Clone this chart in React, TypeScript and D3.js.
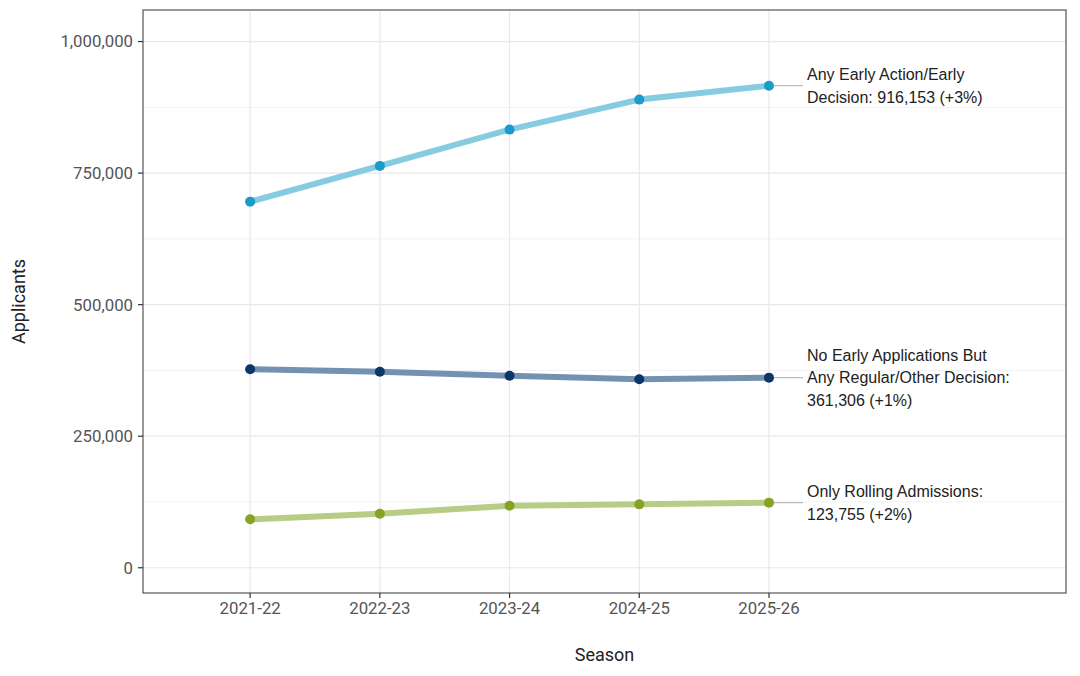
import { useEffect } from "react";
import * as d3 from "d3";

const seasons = ["2021-22", "2022-23", "2023-24", "2024-25", "2025-26"];
const earlyAction = [695800, 763700, 832700, 889700, 916153];
const regularOnly = [377200, 372600, 365000, 358200, 361306];
const rollingOnly = [92000, 102700, 117900, 120500, 123755];
const yTicks = [0, 250000, 500000, 750000, 1000000];
const yMinor = [125000, 375000, 625000, 875000];

const series = [
  {
    key: "early",
    values: earlyAction,
    line: "#86cbe0",
    point: "#1a9bcb",
    label: ["Any Early Action/Early", "Decision: 916,153 (+3%)"],
  },
  {
    key: "regular",
    values: regularOnly,
    line: "#7591b1",
    point: "#0c3568",
    label: ["No Early Applications But", "Any Regular/Other Decision:", "361,306 (+1%)"],
  },
  {
    key: "rolling",
    values: rollingOnly,
    line: "#b7cd85",
    point: "#86a324",
    label: ["Only Rolling Admissions:", "123,755 (+2%)"],
  },
];

const W = 1080;
const H = 676;
const panel = { left: 143, right: 1066, top: 10, bottom: 593 };

export default function App() {
  useEffect(() => {
    document.body.style.margin = "0";
  }, []);

  // discrete positions 1..5, panel widened to the right for the labels
  const x = d3.scaleLinear().domain([0.174, 7.29]).range([panel.left, panel.right]);
  const y = d3.scaleLinear().domain([-48000, 1060000]).range([panel.bottom, panel.top]);

  const line = d3
    .line<number>()
    .x((_, i) => x(i + 1))
    .y((d) => y(d));

  const fmt = d3.format(",");
  const labelX = 807;
  const lineGap = 22.7;
  const tickFont = "Roboto, sans-serif";

  return (
    <svg width={W} height={H} style={{ display: "block", background: "#fff" }}>
      {/* grid */}
      <g>
        {yMinor.map((t) => (
          <line key={"m" + t} x1={panel.left} x2={panel.right} y1={y(t)} y2={y(t)} stroke="#f2f2f2" strokeWidth={1} />
        ))}
        {yTicks.map((t) => (
          <line key={"g" + t} x1={panel.left} x2={panel.right} y1={y(t)} y2={y(t)} stroke="#e8e8e8" strokeWidth={1.2} />
        ))}
        {seasons.map((s, i) => (
          <line key={s} x1={x(i + 1)} x2={x(i + 1)} y1={panel.top} y2={panel.bottom} stroke="#e8e8e8" strokeWidth={1.2} />
        ))}
      </g>

      {/* connectors */}
      {series.map((s) => {
        const last = s.values[s.values.length - 1];
        return (
          <line
            key={"c" + s.key}
            x1={x(seasons.length)}
            x2={labelX - 4}
            y1={y(last)}
            y2={y(last)}
            stroke="#bdbdbd"
            strokeWidth={1.2}
          />
        );
      })}

      {/* lines and points */}
      {series.map((s) => (
        <g key={s.key}>
          <path d={line(s.values) ?? ""} fill="none" stroke={s.line} strokeWidth={6} strokeLinejoin="round" strokeLinecap="round" />
          {s.values.map((v, i) => (
            <circle key={i} cx={x(i + 1)} cy={y(v)} r={5} fill={s.point} />
          ))}
        </g>
      ))}

      {/* labels */}
      {series.map((s) => {
        const last = s.values[s.values.length - 1];
        const cy = y(last);
        const n = s.label.length;
        return (
          <text
            key={"l" + s.key}
            fontFamily="'Liberation Sans', Arial, sans-serif"
            fontSize={16}
            fill="#222"
          >
            {s.label.map((t, i) => (
              <tspan key={i} x={labelX} y={cy + (i - (n - 1) / 2) * lineGap} dy="0.35em">
                {t}
              </tspan>
            ))}
          </text>
        );
      })}

      {/* panel border */}
      <rect
        x={panel.left}
        y={panel.top}
        width={panel.right - panel.left}
        height={panel.bottom - panel.top}
        fill="none"
        stroke="#555"
        strokeWidth={1.2}
      />

      {/* y axis */}
      <g fontFamily={tickFont} fontSize={16.8} fill="#555">
        {yTicks.map((t) => (
          <g key={t}>
            <line x1={panel.left - 5} x2={panel.left} y1={y(t)} y2={y(t)} stroke="#333" strokeWidth={1.2} />
            <text x={panel.left - 10} y={y(t)} dy="0.35em" textAnchor="end">
              {fmt(t)}
            </text>
          </g>
        ))}
      </g>

      {/* x axis */}
      <g fontFamily={tickFont} fontSize={16.8} fill="#555">
        {seasons.map((s, i) => (
          <g key={s}>
            <line x1={x(i + 1)} x2={x(i + 1)} y1={panel.bottom} y2={panel.bottom + 5} stroke="#333" strokeWidth={1.2} />
            <text x={x(i + 1)} y={panel.bottom + 15} dy="0.35em" textAnchor="middle">
              {s}
            </text>
          </g>
        ))}
      </g>

      {/* axis titles */}
      <text
        x={(panel.left + panel.right) / 2}
        y={655}
        dy="0.35em"
        textAnchor="middle"
        fontFamily="Roboto, sans-serif"
        fontSize={18}
        fill="#222"
      >
        Season
      </text>
      <text
        transform={`translate(19, ${(panel.top + panel.bottom) / 2}) rotate(-90)`}
        dy="0.35em"
        textAnchor="middle"
        fontFamily="Roboto, sans-serif"
        fontSize={18}
        fill="#222"
      >
        Applicants
      </text>
    </svg>
  );
}
